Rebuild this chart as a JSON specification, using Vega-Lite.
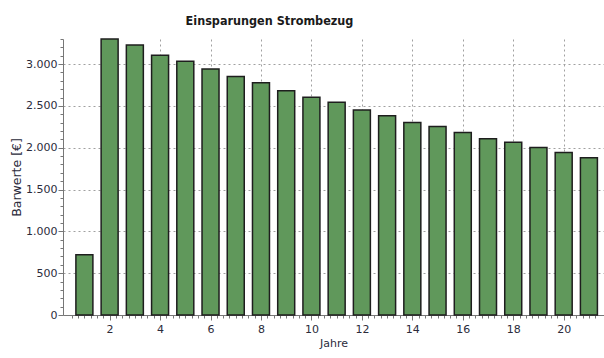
{
  "$schema": "https://vega.github.io/schema/vega-lite/v6.json",
  "width": 541,
  "height": 276,
  "autosize": {"type": "none"},
  "padding": {"left": 63, "top": 39, "right": 0, "bottom": 43},
  "background": "white",
  "config": {"view": {"stroke": null}},
  "title": {
    "text": "Einsparungen Strombezug",
    "font": "Liberation Sans Narrow, DejaVu Sans Condensed",
    "fontSize": 12.5,
    "fontWeight": "bold",
    "color": "#1a1a1a",
    "anchor": "middle",
    "dx": -64,
    "offset": 6
  },
  "data": {
    "values": [
      {"Jahr": 1, "Wert": 720},
      {"Jahr": 2, "Wert": 3300},
      {"Jahr": 3, "Wert": 3227},
      {"Jahr": 4, "Wert": 3107},
      {"Jahr": 5, "Wert": 3035},
      {"Jahr": 6, "Wert": 2940},
      {"Jahr": 7, "Wert": 2852},
      {"Jahr": 8, "Wert": 2776},
      {"Jahr": 9, "Wert": 2681},
      {"Jahr": 10, "Wert": 2605},
      {"Jahr": 11, "Wert": 2545},
      {"Jahr": 12, "Wert": 2452},
      {"Jahr": 13, "Wert": 2382},
      {"Jahr": 14, "Wert": 2303},
      {"Jahr": 15, "Wert": 2255},
      {"Jahr": 16, "Wert": 2183},
      {"Jahr": 17, "Wert": 2107},
      {"Jahr": 18, "Wert": 2064},
      {"Jahr": 19, "Wert": 2004},
      {"Jahr": 20, "Wert": 1944},
      {"Jahr": 21, "Wert": 1880}
    ]
  },
  "mark": {"type": "bar", "size": 17, "fill": "#60985b", "stroke": "#1e1e1e", "strokeWidth": 1.5},
  "encoding": {
    "x": {
      "field": "Jahr",
      "type": "quantitative",
      "scale": {"domain": [0.35, 21.4], "nice": false, "zero": false},
      "axis": {
        "title": "Jahre",
        "values": [0.5,0.75,1,1.25,1.5,1.75,2,2.25,2.5,2.75,3,3.25,3.5,3.75,4,4.25,4.5,4.75,5,5.25,5.5,5.75,6,6.25,6.5,6.75,7,7.25,7.5,7.75,8,8.25,8.5,8.75,9,9.25,9.5,9.75,10,10.25,10.5,10.75,11,11.25,11.5,11.75,12,12.25,12.5,12.75,13,13.25,13.5,13.75,14,14.25,14.5,14.75,15,15.25,15.5,15.75,16,16.25,16.5,16.75,17,17.25,17.5,17.75,18,18.25,18.5,18.75,19,19.25,19.5,19.75,20,20.25,20.5,20.75,21,21.25],
        "labelExpr": "datum.value % 2 === 0 ? '' + datum.value : ''",
        "labelOverlap": false,
        "labelFont": "DejaVu Sans",
        "labelFontSize": 11,
        "labelColor": "#2b2b3b",
        "labelPadding": 3,
        "titleFont": "DejaVu Sans",
        "titleFontSize": 11,
        "titleFontWeight": "normal",
        "titleColor": "#2b2b3b",
        "titlePadding": 3,
        "domainColor": "#777777",
        "tickColor": "#777777",
        "tickSize": {"condition": {"test": "datum.value % 2 === 0", "value": 5}, "value": 3},
        "grid": true,
        "gridColor": "#a0a0a0",
        "gridDash": [2, 3],
        "gridOpacity": {"condition": {"test": "datum.value % 2 === 0", "value": 1}, "value": 0}
      }
    },
    "y": {
      "field": "Wert",
      "type": "quantitative",
      "scale": {"domain": [0, 3300], "nice": false},
      "axis": {
        "title": "Barwerte [€]",
        "values": [0,100,200,300,400,500,600,700,800,900,1000,1100,1200,1300,1400,1500,1600,1700,1800,1900,2000,2100,2200,2300,2400,2500,2600,2700,2800,2900,3000,3100,3200,3300],
        "format": ",d",
        "labelExpr": "datum.value % 500 === 0 ? replace(datum.label, ',', '.') : ''",
        "labelOverlap": false,
        "labelFont": "DejaVu Sans",
        "labelFontSize": 11,
        "labelColor": "#2b2b3b",
        "labelPadding": 1,
        "titleFont": "DejaVu Sans",
        "titleFontSize": 12.5,
        "titleFontWeight": "normal",
        "titleColor": "#2b2b3b",
        "titlePadding": 2,
        "domainColor": "#777777",
        "tickColor": "#777777",
        "tickSize": {"condition": {"test": "datum.value % 500 === 0", "value": 5}, "value": 3},
        "grid": true,
        "gridColor": "#a0a0a0",
        "gridDash": [2, 3],
        "gridOpacity": {"condition": {"test": "datum.value % 500 === 0", "value": 1}, "value": 0}
      }
    }
  }
}
